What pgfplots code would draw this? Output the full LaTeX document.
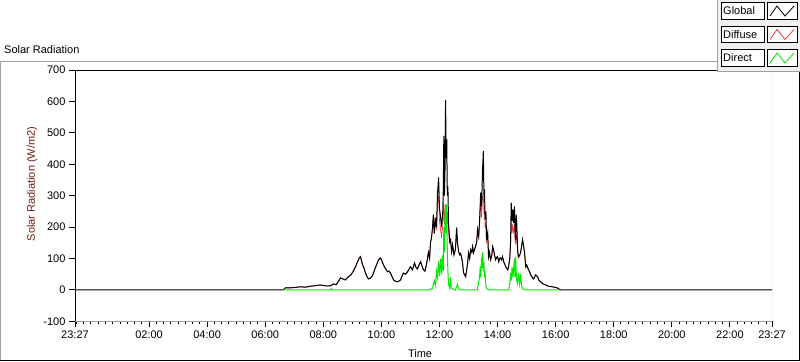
\documentclass[border=0pt]{standalone}
\usepackage{fontspec}
\setmainfont{Liberation Sans}
\usepackage{pgfplots}
\pgfplotsset{compat=1.18}
\definecolor{diffred}{RGB}{240,60,60}
\definecolor{dirgreen}{RGB}{0,235,0}
\definecolor{ylab}{RGB}{110,30,20}
\definecolor{framegray}{RGB}{160,160,160}
\definecolor{panelgray}{RGB}{240,240,240}
\begin{document}
\begin{tikzpicture}[x=1bp,y=1bp,font=\fontsize{11bp}{13bp}\selectfont]
\useasboundingbox (0,0) rectangle (800,361);
\draw[framegray,line width=1bp] (0.5,0.5) -- (0.5,299.5) -- (717,299.5);
\draw[black,line width=1bp] (0.5,0.5) -- (799.5,0.5) -- (799.5,289);
\node[anchor=west,inner sep=0pt] at (4,311) {Solar Radiation};
\begin{axis}[at={(75bp,39.6bp)}, anchor=south west, scale only axis,
  width=697bp, height=251.4bp,
  xmin=-0.55, xmax=23.45, ymin=-100, ymax=700,
  axis lines*=left,
  x axis line style={draw=framegray,line width=1bp},
  y axis line style={draw=black,line width=1bp},
  tick align=outside,
  major tick length=6bp, minor tick length=3bp,
  every tick/.style={black,line width=1bp},
  xtick={-0.55,2,4,6,8,10,12,14,16,18,20,22,23.45},
  xticklabels={23:27,02:00,04:00,06:00,08:00,10:00,12:00,14:00,16:00,18:00,20:00,22:00,23:27},
  minor xtick={-0.5,-0.25,...,23.3},
  ytick={-100,0,100,200,300,400,500,600,700},
  /pgf/number format/assume math mode=true,
  ticklabel style={font=\fontsize{11bp}{13bp}\selectfont},
  xlabel={Time},
  xlabel style={at={(axis description cs:0.495,-0.126)},anchor=center},
  ylabel={Solar Radiation (W/m2)},
  ylabel style={at={(axis description cs:-0.0617,0.547)},anchor=center,color=ylab},
  clip=true,
]
\addplot[diffred, line width=0.7bp, no marks] coordinates {
(6.69,7) (6.9,7) (7.21,10) (7.4,9) (7.55,12) (7.75,14) (7.90,16) (8.07,13) (8.24,13) (8.35,19) (8.45,17) (8.59,38) (8.76,32) (8.86,42) (8.95,48) (9.04,61) (9.11,74) (9.18,90) (9.24,102) (9.28,106) (9.35,80) (9.40,70) (9.45,54) (9.50,44) (9.55,35) (9.62,38) (9.69,45) (9.79,70) (9.85,84) (9.90,96) (9.97,102) (10.02,92) (10.07,80) (10.14,68) (10.21,58) (10.26,60) (10.31,54) (10.36,44) (10.42,32) (10.48,28) (10.55,26) (10.60,28) (10.66,32) (10.71,44) (10.76,54) (10.83,50) (10.90,58) (10.95,66) (11.00,74) (11.07,64) (11.14,86) (11.19,72) (11.24,67) (11.30,80) (11.35,90) (11.40,76) (11.45,64) (11.50,60) (11.55,80) (11.62,120) (11.66,100) (11.69,150) (11.73,170) (11.76,198) (11.79,240) (11.82,180)
(11.86,210) (11.90,195) (11.93,270) (11.97,300) (12.00,220) (12.04,190) (12.07,170) (12.11,200) (12.13,250) (12.15,280) (12.17,210) (12.19,240) (12.21,272) (12.23,210) (12.25,260) (12.27,210) (12.29,250) (12.31,190) (12.35,150)
(12.38,160) (12.42,122) (12.45,144) (12.50,112) (12.55,130) (12.59,198) (12.62,150) (12.66,122) (12.70,112) (12.73,116) (12.79,90) (12.83,54) (12.87,48) (12.90,42) (12.97,86) (13.00,118) (13.04,100) (13.07,128) (13.11,120) (13.14,138) (13.17,118) (13.21,130) (13.24,138) (13.28,150) (13.31,192) (13.35,170)
(13.38,210) (13.42,290) (13.45,230) (13.48,300) (13.51,300) (13.53,250) (13.55,260) (13.57,200) (13.60,210) (13.62,155) (13.66,175)
(13.69,106) (13.72,120) (13.76,96) (13.80,110) (13.83,138) (13.86,128) (13.90,110) (13.93,96) (13.97,104) (14.00,106) (14.04,90) (14.07,100) (14.10,102) (14.14,96) (14.17,106) (14.21,90) (14.25,82) (14.28,74) (14.31,70) (14.35,64) (14.38,74) (14.42,100)
(14.45,145) (14.47,220) (14.50,180) (14.52,210) (14.55,185) (14.58,200) (14.60,160) (14.62,145) (14.64,170) (14.66,175) (14.69,115) (14.72,102)
(14.76,110) (14.79,118) (14.83,140) (14.86,160) (14.90,138) (14.93,118) (14.97,74) (15.00,80) (15.04,70) (15.07,64) (15.11,56) (15.14,48) (15.18,42) (15.21,38) (15.24,35) (15.28,42) (15.31,48) (15.34,46) (15.38,42) (15.43,30) (15.48,26) (15.55,20) (15.66,16) (15.75,12) (15.90,10) (16.00,8) (16.07,6)
};
\addplot[black, line width=1bp, no marks] coordinates {
(-0.55,0) (6.62,0) (6.69,7) (6.9,7) (7.21,10) (7.4,9) (7.55,12) (7.75,14) (7.90,16) (8.07,13) (8.24,13) (8.35,19) (8.45,17) (8.59,38) (8.76,32) (8.86,42) (8.95,48) (9.04,61) (9.11,74) (9.18,90) (9.24,102) (9.28,106) (9.35,80) (9.40,70) (9.45,54) (9.50,44) (9.55,35) (9.62,38) (9.69,45) (9.79,70) (9.85,84) (9.90,96) (9.97,102) (10.02,92) (10.07,80) (10.14,68) (10.21,58) (10.26,60) (10.31,54) (10.36,44) (10.42,32) (10.48,28) (10.55,26) (10.60,28) (10.66,32) (10.71,44) (10.76,54) (10.83,50) (10.90,58) (10.95,66) (11.00,74) (11.07,64) (11.14,86) (11.19,72) (11.24,67) (11.30,80) (11.35,90) (11.40,76) (11.45,64) (11.50,60) (11.55,80) (11.62,120) (11.66,100) (11.69,150) (11.73,170) (11.76,198) (11.79,240) (11.82,180) (11.86,230) (11.90,200) (11.93,304) (11.97,358) (12.00,260) (12.04,230) (12.07,200) (12.11,240) (12.13,313) (12.15,490) (12.17,300) (12.19,380) (12.21,605) (12.23,420) (12.25,480) (12.27,300) (12.29,330) (12.31,218) (12.35,154) (12.38,160) (12.42,122) (12.45,144) (12.50,112) (12.55,130) (12.59,198) (12.62,150) (12.66,122) (12.70,112) (12.73,116) (12.79,90) (12.83,54) (12.87,48) (12.90,42) (12.97,86) (13.00,118) (13.04,100) (13.07,128) (13.11,120) (13.14,138) (13.17,118) (13.21,130) (13.24,138) (13.28,150) (13.31,192) (13.35,170) (13.38,220) (13.42,310) (13.45,266) (13.48,374) (13.51,442) (13.53,300) (13.55,320) (13.57,224) (13.60,250) (13.62,160) (13.66,182) (13.69,106) (13.72,120) (13.76,96) (13.80,110) (13.83,138) (13.86,128) (13.90,110) (13.93,96) (13.97,104) (14.00,106) (14.04,90) (14.07,100) (14.10,102) (14.14,96) (14.17,106) (14.21,90) (14.25,82) (14.28,74) (14.31,70) (14.35,64) (14.38,74) (14.42,100) (14.45,160) (14.47,278) (14.50,220) (14.52,256) (14.55,214) (14.58,266) (14.60,200) (14.62,160) (14.64,240) (14.66,214) (14.69,128) (14.72,106) (14.76,110) (14.79,118) (14.83,140) (14.86,160) (14.90,138) (14.93,118) (14.97,74) (15.00,80) (15.04,70) (15.07,64) (15.11,56) (15.14,48) (15.18,42) (15.21,38) (15.24,35) (15.28,42) (15.31,48) (15.34,46) (15.38,42) (15.43,30) (15.48,26) (15.55,20) (15.66,16) (15.75,12) (15.90,10) (16.00,8) (16.07,6) (16.17,0) (23.45,0)
};
\addplot[dirgreen, line width=1bp, no marks] coordinates {
(6.62,0) (8.24,0) (8.28,5) (8.32,0) (11.60,0) (11.70,3) (11.76,5) (11.82,30) (11.86,15) (11.90,60) (11.93,40) (11.97,90) (12.00,45) (12.04,100) (12.07,50) (12.10,110) (12.13,60) (12.15,200) (12.17,120) (12.19,230) (12.21,272) (12.23,180) (12.25,272) (12.27,120) (12.29,60) (12.31,20) (12.35,5) (12.38,40) (12.41,5) (12.55,0) (12.62,18) (12.66,3) (12.75,0) (13.30,0) (13.38,40) (13.40,74) (13.42,40) (13.45,106) (13.47,70) (13.49,120) (13.51,60) (13.53,90) (13.55,40) (13.57,60) (13.60,10) (13.64,3) (13.75,0) (14.38,0) (14.42,20) (14.45,54) (14.47,30) (14.50,74) (14.53,40) (14.55,60) (14.58,100) (14.60,40) (14.62,106) (14.64,60) (14.66,30) (14.69,20) (14.72,54) (14.76,20) (14.79,50) (14.83,10) (14.88,3) (14.95,0) (16.10,0)
};
\draw[black,line width=1bp] (rel axis cs:0,1) -- (rel axis cs:1,1);
\draw[framegray,line width=1bp] (rel axis cs:1,0) -- (rel axis cs:1,1);
\end{axis}
% legend panel
\fill[panelgray] (717,289) rectangle (800,361);
\draw[framegray,line width=1bp] (717.5,361) -- (717.5,289.5) -- (800,289.5);
\foreach \cy/\lab/\col in {350/Global/black,326.5/Diffuse/diffred,303/Direct/dirgreen}{
  \draw[black,line width=1bp,fill=white] (721,\cy-8.2) rectangle (764,\cy+8.2);
  \draw[black,line width=1bp,fill=white] (767,\cy-8.2) rectangle (797,\cy+8.2);
  \node[anchor=west,inner sep=0pt] at (723,\cy) {\lab};
  \draw[\col,line width=0.8bp] (770,\cy-5) -- (777,\cy+5) -- (785,\cy-5) -- (794,\cy+5);
}
\end{tikzpicture}
\end{document}
